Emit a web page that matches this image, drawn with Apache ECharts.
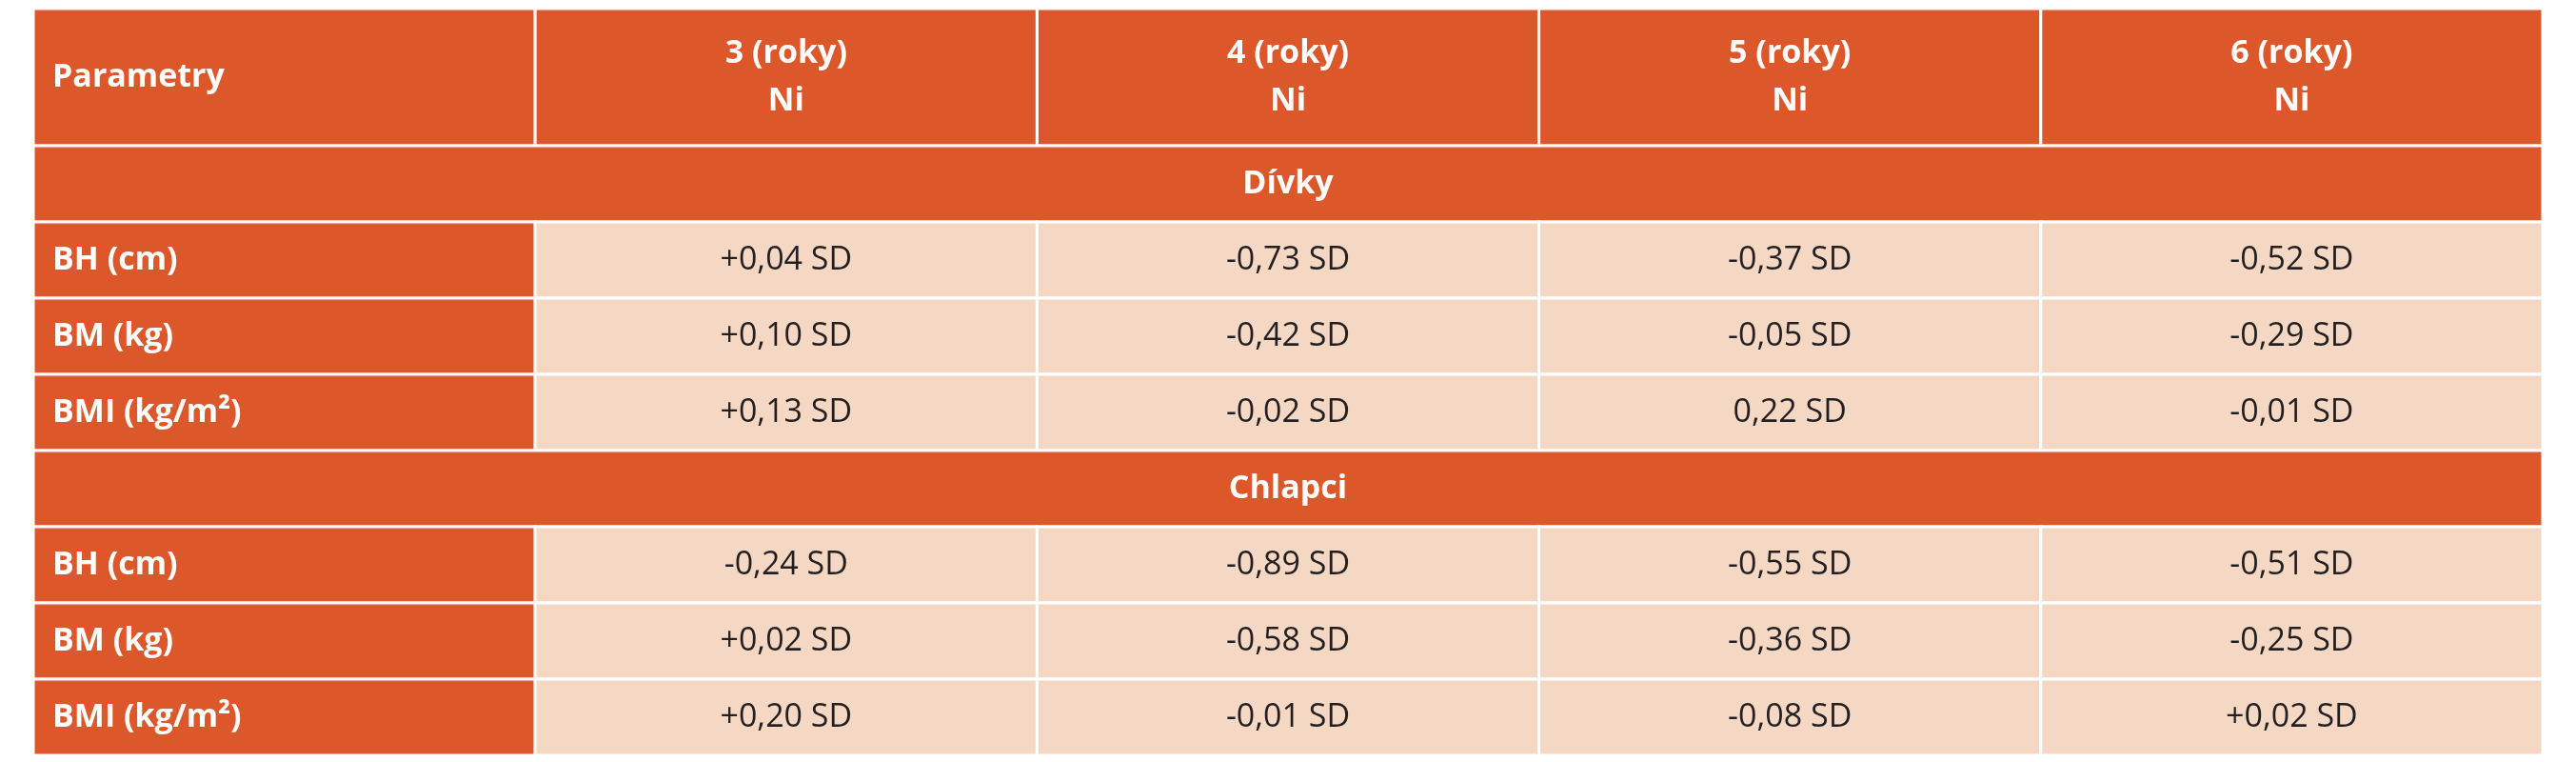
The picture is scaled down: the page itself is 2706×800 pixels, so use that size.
<!DOCTYPE html>
<html><head><meta charset="utf-8">
<script src="https://cdn.jsdelivr.net/npm/echarts@6/dist/echarts.min.js"></script>
<style>html,body{margin:0;padding:0;background:#fff}#c{width:2706px;height:800px}</style>
</head><body><div id="c"></div>
<script>
const headers = ['Parametry', '3 (roky)\nNi', '4 (roky)\nNi', '5 (roky)\nNi', '6 (roky)\nNi'];
const sections = ['Dívky', 'Chlapci'];
const params = ['BH (cm)', 'BM (kg)', 'BMI (kg/m²)'];
const girls = [
  ['+0,04 SD', '-0,73 SD', '-0,37 SD', '-0,52 SD'],
  ['+0,10 SD', '-0,42 SD', '-0,05 SD', '-0,29 SD'],
  ['+0,13 SD', '-0,02 SD', '0,22 SD', '-0,01 SD']
];
const boys = [
  ['-0,24 SD', '-0,89 SD', '-0,55 SD', '-0,51 SD'],
  ['+0,02 SD', '-0,58 SD', '-0,36 SD', '-0,25 SD'],
  ['+0,20 SD', '-0,01 SD', '-0,08 SD', '+0,02 SD']
];
const HEAD = 1.8;
// items: [colStart, colEnd, y0, y1, text, kind]
const items = [];
headers.forEach((h, i) => items.push([i, i, 0, HEAD, h, i === 0 ? 'headL' : 'head']));
let y = HEAD;
[girls, boys].forEach((block, s) => {
  items.push([0, 4, y, y + 1, sections[s], 'sect']); y += 1;
  block.forEach((row, r) => {
    items.push([0, 0, y, y + 1, params[r], 'label']);
    row.forEach((v, c) => items.push([c + 1, c + 1, y, y + 1, v, 'val']));
    y += 1;
  });
});
const ORANGE = '#DC572A', LIGHT = '#F5D8C4';
const FONT = "'Liberation Sans Narrow','Open Sans',sans-serif";
const chart = echarts.init(document.getElementById('c'));
chart.setOption({
  animation: false,
  grid: { left: 35, right: 35, top: 9, bottom: 7 },
  xAxis: { type: 'category', data: headers.map((_, i) => i), show: false },
  yAxis: { type: 'value', min: 0, max: y, inverse: true, show: false },
  series: [{
    type: 'custom',
    data: items,
    renderItem: (params, api) => {
      const c0 = api.value(0), c1 = api.value(1), y0 = api.value(2), y1 = api.value(3);
      const kind = items[params.dataIndex][5], text = items[params.dataIndex][4];
      const w = api.size([1, 0])[0];
      const x0 = api.coord([c0, y0])[0] - w / 2;
      const x1 = api.coord([c1, y0])[0] + w / 2;
      const py0 = api.coord([c0, y0])[1], py1 = api.coord([c0, y1])[1];
      const fill = kind === 'val' ? LIGHT : ORANGE;
      const left = kind === 'headL' || kind === 'label';
      return {
        type: 'group',
        children: [
          { type: 'rect', shape: { x: x0, y: py0, width: x1 - x0, height: py1 - py0 },
            style: { fill: fill, stroke: '#fff', lineWidth: 3 } },
          { type: 'text', style: {
              x: left ? x0 + 20 : (x0 + x1) / 2, y: (py0 + py1) / 2,
              text: text, align: left ? 'left' : 'center', verticalAlign: 'middle',
              fill: kind === 'val' ? '#231F20' : '#fff',
              font: (kind === 'val' ? 'normal ' : 'bold ') + '34px ' + FONT,
              lineHeight: 50 } }
        ]
      };
    }
  }]
});
</script></body></html>
